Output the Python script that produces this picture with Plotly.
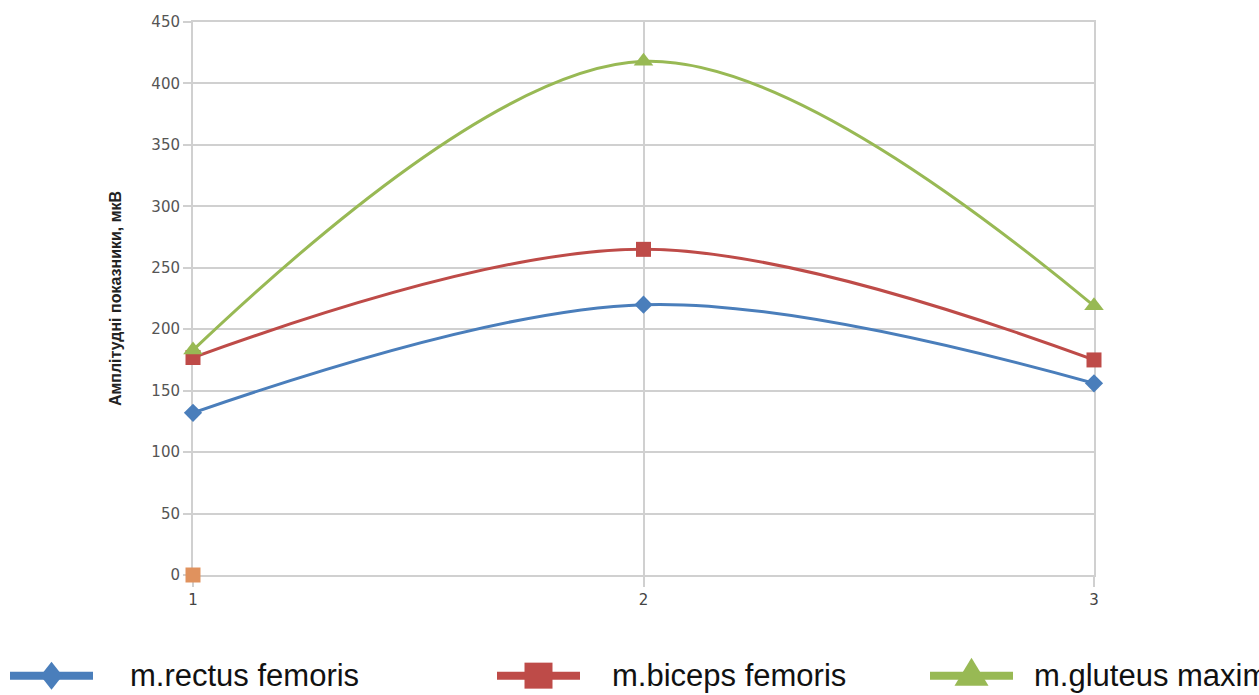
import plotly.graph_objects as go

x_vals = [1, 2, 3]
rectus = [132, 220, 156]
biceps = [177, 265, 175]
gluteus = [183, 418, 219]
extra_x = [1]
extra_y = [0]

names = ["m.rectus femoris", "m.biceps femoris", "m.gluteus maximus"]
colors = ["#4A7EBB", "#BE4B48", "#98B954"]
symbols = ["diamond", "square", "triangle-up"]
y_ticks = [0, 50, 100, 150, 200, 250, 300, 350, 400, 450]

fig = go.Figure()
for ys, nm, c, s, sz in zip([rectus, biceps, gluteus], names, colors, symbols, [14, 15, 17]):
    fig.add_trace(go.Scatter(
        x=x_vals, y=ys, name=nm, mode="lines+markers",
        line=dict(color=c, width=3, shape="spline", smoothing=1.0),
        marker=dict(symbol=s, size=sz, color=c),
        showlegend=False, cliponaxis=False,
    ))
fig.add_trace(go.Scatter(
    x=extra_x, y=extra_y, mode="markers",
    marker=dict(symbol="square", size=15, color="#E0925E"),
    showlegend=False, cliponaxis=False,
))

# manual legend (reference legend is wider than the page and clipped)
leg_y = -0.182
leg_line_x = [(10, 93), (497, 580), (930, 1013)]
leg_text_x = [128, 610, 1032]
W, H = 1259, 695
ml, mr, mt, mb = 193, 165, 22, 120
pw = W - ml - mr
for (x0, x1), tx, nm, c, s in zip(leg_line_x, leg_text_x, names, colors, symbols):
    px0 = (x0 - ml) / pw
    px1 = (x1 - ml) / pw
    fig.add_shape(type="line", xref="paper", yref="paper", x0=px0, x1=px1, y0=leg_y, y1=leg_y,
                  line=dict(color=c, width=8))
    cx = (px0 + px1) / 2
    if s == "diamond":
        path = "M-11,0 L0,-14 L11,0 L0,14 Z"
    elif s == "square":
        path = "M-14,-13 L14,-13 L14,13 L-14,13 Z"
    else:
        path = "M-17,-10 L17,-10 L0,18 Z"
    fig.add_shape(type="path", xref="paper", yref="paper", xsizemode="pixel", ysizemode="pixel",
                  xanchor=cx, yanchor=leg_y, path=path, fillcolor=c, line=dict(width=0))
    fig.add_annotation(x=(tx - ml) / pw, y=leg_y, xref="paper", yref="paper", text=nm,
                       showarrow=False, xanchor="left", yanchor="middle",
                       font=dict(family="Liberation Sans, Arial, sans-serif", size=31, color="#111111"))

fig.update_layout(
    width=W, height=H,
    margin=dict(l=ml, r=mr, t=mt, b=mb),
    paper_bgcolor="white", plot_bgcolor="white",
    font=dict(family="Liberation Sans, Arial, sans-serif", color="#555555"),
)
fig.update_xaxes(
    range=[1, 3], tickvals=x_vals, ticktext=["1", "2", "3"],
    showgrid=True, gridcolor="#D0D0D0", gridwidth=2, zeroline=False,
    showline=True, linecolor="#D0D0D0", linewidth=2, mirror=True, layer="below traces",
    ticks="outside", ticklen=10, tickwidth=2, tickcolor="#D0D0D0",
    tickfont=dict(family="DejaVu Sans, sans-serif", size=15, color="#444444"),
)
fig.update_yaxes(
    range=[0, 450], tickvals=y_ticks,
    showgrid=True, gridcolor="#D0D0D0", gridwidth=2, zeroline=False,
    showline=True, linecolor="#D0D0D0", linewidth=2, mirror=True, layer="below traces",
    ticks="outside", ticklen=8, tickwidth=2, tickcolor="#D0D0D0",
    tickfont=dict(family="DejaVu Sans, sans-serif", size=15, color="#555555"),
    title=dict(text="<b>Амплітудні показники, мкВ</b>", font=dict(size=16, color="#222222"), standoff=26),
)
fig.write_html("out.html")
